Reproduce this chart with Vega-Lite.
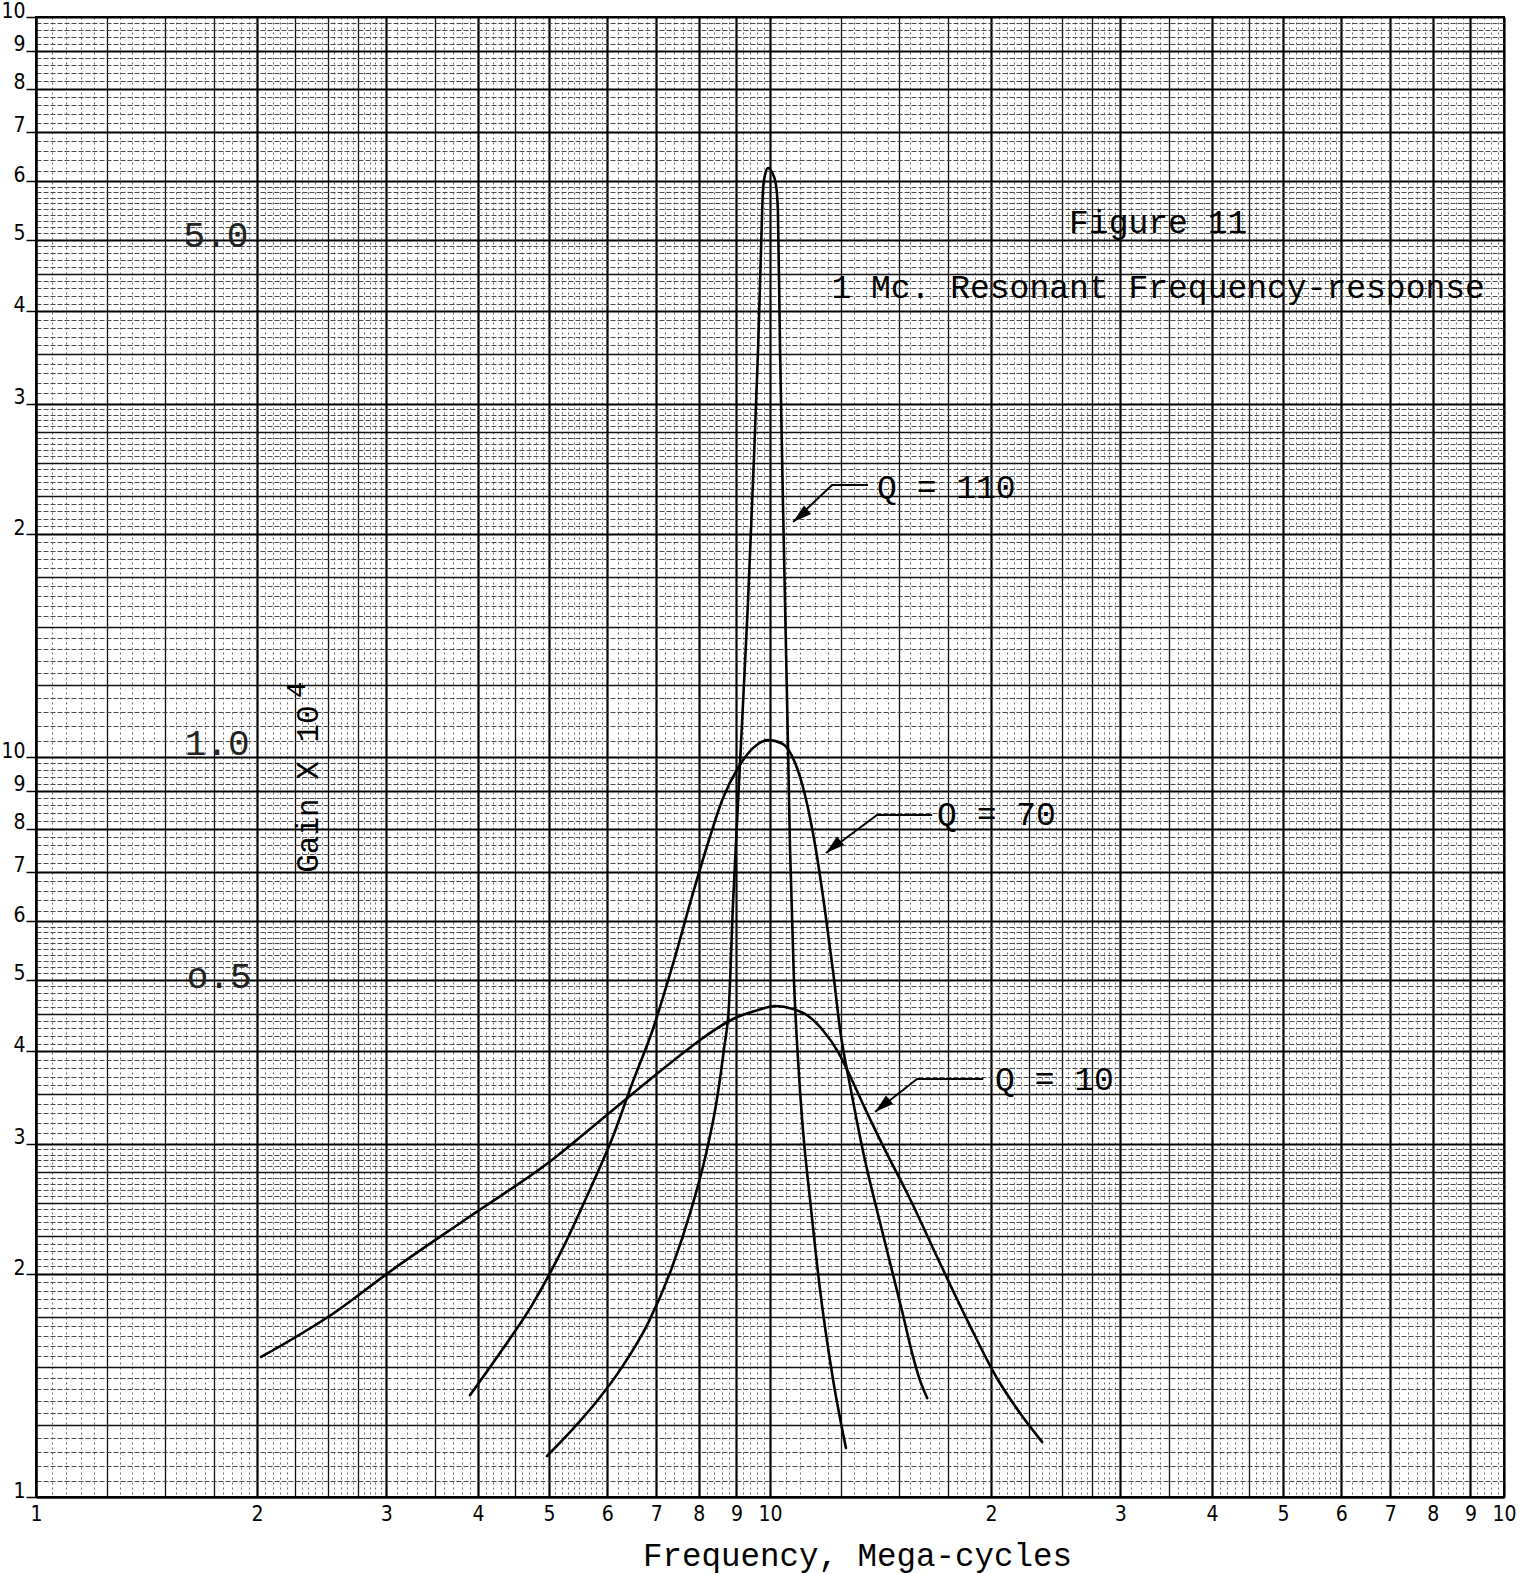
{
  "$schema": "https://vega.github.io/schema/vega-lite/v6.json",
  "autosize": {"type": "none"},
  "padding": {"left": 36, "top": 17, "right": 31, "bottom": 77},
  "width": 1468,
  "height": 1480,
  "background": "white",
  "config": {
    "view": {"stroke": "#000", "strokeWidth": 2},
    "axis": {
      "grid": true,
      "labelOverlap": false,
      "labelFlush": false,
      "labelBound": false,
      "domainColor": "#000",
      "domainWidth": 2,
      "labelColor": "#000",
      "labelFont": "Liberation Sans Narrow, DejaVu Sans Condensed, Arial Narrow, sans-serif",
      "labelFontSize": 21,
      "gridOpacity": 1,
      "gridWidth": {"condition": [
        {"test": "abs((datum.value > 10.2 ? datum.value / 10 : datum.value) - round(datum.value > 10.2 ? datum.value / 10 : datum.value)) < 0.001", "value": 2.2},
        {"test": "((datum.value > 10.2 ? datum.value / 10 : datum.value) < 2.99 && abs((datum.value > 10.2 ? datum.value / 10 : datum.value) * 4 - round((datum.value > 10.2 ? datum.value / 10 : datum.value) * 4)) < 0.001) || ((datum.value > 10.2 ? datum.value / 10 : datum.value) < 5 && abs((datum.value > 10.2 ? datum.value / 10 : datum.value) * 2 - round((datum.value > 10.2 ? datum.value / 10 : datum.value) * 2)) < 0.001)", "value": 1.3}
      ], "value": 1},
      "labelExpr": "abs((datum.value > 10.2 ? datum.value / 10 : datum.value) - round(datum.value > 10.2 ? datum.value / 10 : datum.value)) < 0.001 ? format(datum.value > 10.2 ? datum.value / 10 : datum.value, 'd') : ''"
    }
  },
  "datasets": {
    "curves": [
      {"q": "Q10", "f": 2.026, "g": 1.546},
      {"q": "Q10", "f": 2.523, "g": 1.762},
      {"q": "Q10", "f": 3.055, "g": 2.026},
      {"q": "Q10", "f": 3.927, "g": 2.405},
      {"q": "Q10", "f": 5.047, "g": 2.854},
      {"q": "Q10", "f": 5.904, "g": 3.243},
      {"q": "Q10", "f": 6.692, "g": 3.593},
      {"q": "Q10", "f": 7.376, "g": 3.883},
      {"q": "Q10", "f": 8.103, "g": 4.172},
      {"q": "Q10", "f": 8.904, "g": 4.425},
      {"q": "Q10", "f": 9.632, "g": 4.551},
      {"q": "Q10", "f": 10.16, "g": 4.608},
      {"q": "Q10", "f": 10.75, "g": 4.565},
      {"q": "Q10", "f": 11.26, "g": 4.47},
      {"q": "Q10", "f": 11.81, "g": 4.27},
      {"q": "Q10", "f": 12.39, "g": 3.99},
      {"q": "Q10", "f": 12.93, "g": 3.66},
      {"q": "Q10", "f": 13.51, "g": 3.33},
      {"q": "Q10", "f": 14.26, "g": 2.98},
      {"q": "Q10", "f": 15.57, "g": 2.51},
      {"q": "Q10", "f": 17.04, "g": 2.071},
      {"q": "Q10", "f": 18.69, "g": 1.71},
      {"q": "Q10", "f": 20.45, "g": 1.439},
      {"q": "Q10", "f": 21.89, "g": 1.30},
      {"q": "Q10", "f": 23.48, "g": 1.187},
      {"q": "Q70", "f": 3.902, "g": 1.373},
      {"q": "Q70", "f": 4.314, "g": 1.58},
      {"q": "Q70", "f": 4.74, "g": 1.817},
      {"q": "Q70", "f": 5.207, "g": 2.157},
      {"q": "Q70", "f": 5.721, "g": 2.64},
      {"q": "Q70", "f": 6.091, "g": 3.046},
      {"q": "Q70", "f": 6.486, "g": 3.615},
      {"q": "Q70", "f": 6.927, "g": 4.29},
      {"q": "Q70", "f": 7.376, "g": 5.252},
      {"q": "Q70", "f": 7.855, "g": 6.551},
      {"q": "Q70", "f": 8.233, "g": 7.652},
      {"q": "Q70", "f": 8.63, "g": 8.803},
      {"q": "Q70", "f": 9.045, "g": 9.663},
      {"q": "Q70", "f": 9.48, "g": 10.28},
      {"q": "Q70", "f": 9.937, "g": 10.54},
      {"q": "Q70", "f": 10.42, "g": 10.41},
      {"q": "Q70", "f": 10.82, "g": 9.815},
      {"q": "Q70", "f": 11.16, "g": 8.885},
      {"q": "Q70", "f": 11.52, "g": 7.604},
      {"q": "Q70", "f": 11.88, "g": 6.213},
      {"q": "Q70", "f": 12.19, "g": 5.123},
      {"q": "Q70", "f": 12.46, "g": 4.276},
      {"q": "Q70", "f": 12.89, "g": 3.548},
      {"q": "Q70", "f": 13.35, "g": 2.972},
      {"q": "Q70", "f": 14.26, "g": 2.26},
      {"q": "Q70", "f": 15.18, "g": 1.762},
      {"q": "Q70", "f": 15.63, "g": 1.56},
      {"q": "Q70", "f": 16.0, "g": 1.44},
      {"q": "Q70", "f": 16.38, "g": 1.36},
      {"q": "Q110", "f": 4.968, "g": 1.136},
      {"q": "Q110", "f": 5.374, "g": 1.232},
      {"q": "Q110", "f": 5.812, "g": 1.348},
      {"q": "Q110", "f": 6.286, "g": 1.498},
      {"q": "Q110", "f": 6.822, "g": 1.718},
      {"q": "Q110", "f": 7.331, "g": 2.026},
      {"q": "Q110", "f": 7.806, "g": 2.443},
      {"q": "Q110", "f": 8.181, "g": 2.908},
      {"q": "Q110", "f": 8.468, "g": 3.45},
      {"q": "Q110", "f": 8.656, "g": 4.031},
      {"q": "Q110", "f": 8.794, "g": 4.637},
      {"q": "Q110", "f": 8.904, "g": 6.331},
      {"q": "Q110", "f": 9.045, "g": 8.667},
      {"q": "Q110", "f": 9.189, "g": 11.83},
      {"q": "Q110", "f": 9.333, "g": 16.2},
      {"q": "Q110", "f": 9.48, "g": 23.53},
      {"q": "Q110", "f": 9.632, "g": 35.48},
      {"q": "Q110", "f": 9.722, "g": 48.43},
      {"q": "Q110", "f": 9.783, "g": 58.38},
      {"q": "Q110", "f": 9.845, "g": 61.16},
      {"q": "Q110", "f": 9.937, "g": 62.5},
      {"q": "Q110", "f": 10.06, "g": 61.73},
      {"q": "Q110", "f": 10.19, "g": 59.29},
      {"q": "Q110", "f": 10.25, "g": 54.85},
      {"q": "Q110", "f": 10.32, "g": 35.48},
      {"q": "Q110", "f": 10.42, "g": 21.57},
      {"q": "Q110", "f": 10.55, "g": 11.94},
      {"q": "Q110", "f": 10.65, "g": 7.487},
      {"q": "Q110", "f": 10.78, "g": 4.996},
      {"q": "Q110", "f": 10.92, "g": 3.895},
      {"q": "Q110", "f": 11.09, "g": 3.133},
      {"q": "Q110", "f": 11.34, "g": 2.52},
      {"q": "Q110", "f": 11.7, "g": 1.905},
      {"q": "Q110", "f": 12.19, "g": 1.439},
      {"q": "Q110", "f": 12.69, "g": 1.165}
    ],
    "arrows": [
      {"id": "a110", "f": 10.75, "g": 20.78},
      {"id": "a110", "f": 12.15, "g": 23.31},
      {"id": "a110", "f": 13.6, "g": 23.31},
      {"id": "a70", "f": 11.92, "g": 7.418},
      {"id": "a70", "f": 13.99, "g": 8.351},
      {"id": "a70", "f": 16.63, "g": 8.351},
      {"id": "a10", "f": 13.9, "g": 3.313},
      {"id": "a10", "f": 15.86, "g": 3.672},
      {"id": "a10", "f": 19.51, "g": 3.672}
    ],
    "heads": [
      {"id": "a110", "f": 10.75, "g": 20.78},
      {"id": "a70", "f": 11.92, "g": 7.418},
      {"id": "a10", "f": 13.9, "g": 3.313}
    ],
    "qlabels": [
      {"label": "Q = 110", "f": 13.99, "g": 23.1},
      {"label": "Q = 70", "f": 16.89, "g": 8.351},
      {"label": "Q = 10", "f": 20.26, "g": 3.661}
    ],
    "titles": [
      {"label": "Figure 11", "f": 33.79, "g": 52.69},
      {"label": "1 Mc. Resonant Frequency-response", "f": 33.79, "g": 43.04}
    ],
    "scalelabels": [
      {"label": "5.0", "f": 1.759, "g": 50.59},
      {"label": "1.0", "f": 1.765, "g": 10.41},
      {"label": "o.5", "f": 1.776, "g": 5.043}
    ],
    "ylabel": [
      {"label": "Gain X 10", "f": 2.355, "g": 9.05}
    ],
    "yexp": [
      {"label": "4", "f": 2.267, "g": 12.32}
    ]
  },
  "encoding": {
    "x": {
      "field": "f",
      "type": "quantitative",
      "scale": {"type": "log", "domain": [1, 100], "nice": false, "zero": false},
      "axis": {
        "values": [1,1.05,1.1,1.15,1.2,1.25,1.3,1.35,1.4,1.45,1.5,1.55,1.6,1.65,1.7,1.75,1.8,1.85,1.9,1.95,2,2.05,2.1,2.15,2.2,2.25,2.3,2.35,2.4,2.45,2.5,2.55,2.6,2.65,2.7,2.75,2.8,2.85,2.9,2.95,3,3.1,3.2,3.3,3.4,3.5,3.6,3.7,3.8,3.9,4,4.1,4.2,4.3,4.4,4.5,4.6,4.7,4.8,4.9,5,5.1,5.2,5.3,5.4,5.5,5.6,5.7,5.8,5.9,6,6.2,6.4,6.6,6.8,7,7.2,7.4,7.6,7.8,8,8.2,8.4,8.6,8.8,9,9.2,9.4,9.6,9.8,10,10.5,11,11.5,12,12.5,13,13.5,14,14.5,15,15.5,16,16.5,17,17.5,18,18.5,19,19.5,20,20.5,21,21.5,22,22.5,23,23.5,24,24.5,25,25.5,26,26.5,27,27.5,28,28.5,29,29.5,30,31,32,33,34,35,36,37,38,39,40,41,42,43,44,45,46,47,48,49,50,51,52,53,54,55,56,57,58,59,60,62,64,66,68,70,72,74,76,78,80,82,84,86,88,90,92,94,96,98,100],
        "ticks": false,
        "labelPadding": 6,
        "labelBaseline": "top",
        "gridColor": {"condition": [
          {"test": "abs((datum.value > 10.2 ? datum.value / 10 : datum.value) - round(datum.value > 10.2 ? datum.value / 10 : datum.value)) < 0.001", "value": "#000"},
          {"test": "((datum.value > 10.2 ? datum.value / 10 : datum.value) < 2.99 && abs((datum.value > 10.2 ? datum.value / 10 : datum.value) * 4 - round((datum.value > 10.2 ? datum.value / 10 : datum.value) * 4)) < 0.001) || ((datum.value > 10.2 ? datum.value / 10 : datum.value) < 5 && abs((datum.value > 10.2 ? datum.value / 10 : datum.value) * 2 - round((datum.value > 10.2 ? datum.value / 10 : datum.value) * 2)) < 0.001)", "value": "#111"}
        ], "value": "#6a6a6a"},
        "gridDash": {"condition": [
          {"test": "abs((datum.value > 10.2 ? datum.value / 10 : datum.value) - round(datum.value > 10.2 ? datum.value / 10 : datum.value)) < 0.001", "value": []},
          {"test": "((datum.value > 10.2 ? datum.value / 10 : datum.value) < 2.99 && abs((datum.value > 10.2 ? datum.value / 10 : datum.value) * 4 - round((datum.value > 10.2 ? datum.value / 10 : datum.value) * 4)) < 0.001) || ((datum.value > 10.2 ? datum.value / 10 : datum.value) < 5 && abs((datum.value > 10.2 ? datum.value / 10 : datum.value) * 2 - round((datum.value > 10.2 ? datum.value / 10 : datum.value) * 2)) < 0.001)", "value": []}
        ], "value": [2, 3]},
        "title": "Frequency, Mega-cycles",
        "titleFont": "Liberation Mono, Courier New, monospace",
        "titleFontSize": 32.5,
        "titleFontWeight": "normal",
        "titleColor": "#000",
        "titleX": 821,
        "titleY": 68,
        "titleAlign": "center",
        "titleBaseline": "alphabetic"
      }
    },
    "y": {
      "field": "g",
      "type": "quantitative",
      "scale": {"type": "log", "domain": [1, 100], "nice": false, "zero": false},
      "axis": {
        "values": [1,1.05,1.1,1.15,1.2,1.25,1.3,1.35,1.4,1.45,1.5,1.55,1.6,1.65,1.7,1.75,1.8,1.85,1.9,1.95,2,2.05,2.1,2.15,2.2,2.25,2.3,2.35,2.4,2.45,2.5,2.55,2.6,2.65,2.7,2.75,2.8,2.85,2.9,2.95,3,3.1,3.2,3.3,3.4,3.5,3.6,3.7,3.8,3.9,4,4.1,4.2,4.3,4.4,4.5,4.6,4.7,4.8,4.9,5,5.1,5.2,5.3,5.4,5.5,5.6,5.7,5.8,5.9,6,6.2,6.4,6.6,6.8,7,7.2,7.4,7.6,7.8,8,8.2,8.4,8.6,8.8,9,9.2,9.4,9.6,9.8,10,10.5,11,11.5,12,12.5,13,13.5,14,14.5,15,15.5,16,16.5,17,17.5,18,18.5,19,19.5,20,20.5,21,21.5,22,22.5,23,23.5,24,24.5,25,25.5,26,26.5,27,27.5,28,28.5,29,29.5,30,31,32,33,34,35,36,37,38,39,40,41,42,43,44,45,46,47,48,49,50,51,52,53,54,55,56,57,58,59,60,62,64,66,68,70,72,74,76,78,80,82,84,86,88,90,92,94,96,98,100],
        "title": null,
        "ticks": true,
        "tickSize": 10,
        "tickWidth": 1.5,
        "tickColor": "#000",
        "tickOpacity": {"condition": {"test": "abs((datum.value > 10.2 ? datum.value / 10 : datum.value) - round(datum.value > 10.2 ? datum.value / 10 : datum.value)) < 0.001", "value": 1}, "value": 0},
        "gridColor": {"condition": [
          {"test": "abs((datum.value > 10.2 ? datum.value / 10 : datum.value) - round(datum.value > 10.2 ? datum.value / 10 : datum.value)) < 0.001", "value": "#000"},
          {"test": "((datum.value > 10.2 ? datum.value / 10 : datum.value) < 2.99 && abs((datum.value > 10.2 ? datum.value / 10 : datum.value) * 4 - round((datum.value > 10.2 ? datum.value / 10 : datum.value) * 4)) < 0.001) || ((datum.value > 10.2 ? datum.value / 10 : datum.value) < 5 && abs((datum.value > 10.2 ? datum.value / 10 : datum.value) * 2 - round((datum.value > 10.2 ? datum.value / 10 : datum.value) * 2)) < 0.001)", "value": "#111"}
        ], "value": "#4a4a4a"},
        "gridDash": {"condition": [
          {"test": "abs((datum.value > 10.2 ? datum.value / 10 : datum.value) - round(datum.value > 10.2 ? datum.value / 10 : datum.value)) < 0.001", "value": []},
          {"test": "((datum.value > 10.2 ? datum.value / 10 : datum.value) < 2.99 && abs((datum.value > 10.2 ? datum.value / 10 : datum.value) * 4 - round((datum.value > 10.2 ? datum.value / 10 : datum.value) * 4)) < 0.001) || ((datum.value > 10.2 ? datum.value / 10 : datum.value) < 5 && abs((datum.value > 10.2 ? datum.value / 10 : datum.value) * 2 - round((datum.value > 10.2 ? datum.value / 10 : datum.value) * 2)) < 0.001)", "value": []}
        ], "value": [5, 2]},
        "labelPadding": 1,
        "labelAlign": "right",
        "labelBaseline": "alphabetic",
        "labelFontSize": 21
      }
    }
  },
  "layer": [
    {
      "data": {"name": "curves"},
      "mark": {"type": "line", "color": "#000", "strokeWidth": 2.6, "interpolate": "monotone", "strokeCap": "round"},
      "encoding": {"detail": {"field": "q"}}
    },
    {
      "data": {"name": "arrows"},
      "mark": {"type": "line", "color": "#000", "strokeWidth": 2, "interpolate": "linear"},
      "encoding": {"detail": {"field": "id"}}
    },
    {
      "data": {"name": "heads"},
      "mark": {"type": "point", "shape": "M0,0L-0.5,1.7L0.5,1.7Z", "filled": true, "color": "#000", "opacity": 1, "size": 500, "angle": 230, "strokeWidth": 0}
    },
    {
      "data": {"name": "qlabels"},
      "mark": {"type": "text", "align": "left", "baseline": "middle", "font": "Liberation Mono, Courier New, monospace", "fontSize": 33, "color": "#000"},
      "encoding": {"text": {"field": "label"}}
    },
    {
      "data": {"name": "titles"},
      "mark": {"type": "text", "align": "center", "baseline": "middle", "font": "Liberation Mono, Courier New, monospace", "fontSize": 33, "color": "#000"},
      "encoding": {"text": {"field": "label"}}
    },
    {
      "data": {"name": "scalelabels"},
      "mark": {"type": "text", "align": "center", "baseline": "middle", "font": "Liberation Mono, Courier New, monospace", "fontSize": 36, "color": "#222"},
      "encoding": {"text": {"field": "label"}}
    },
    {
      "data": {"name": "ylabel"},
      "mark": {"type": "text", "align": "center", "baseline": "middle", "angle": 270, "font": "Liberation Mono, Courier New, monospace", "fontSize": 31, "color": "#000"},
      "encoding": {"text": {"field": "label"}}
    },
    {
      "data": {"name": "yexp"},
      "mark": {"type": "text", "align": "center", "baseline": "middle", "angle": 270, "font": "Liberation Mono, Courier New, monospace", "fontSize": 28, "color": "#000"},
      "encoding": {"text": {"field": "label"}}
    }
  ]
}
